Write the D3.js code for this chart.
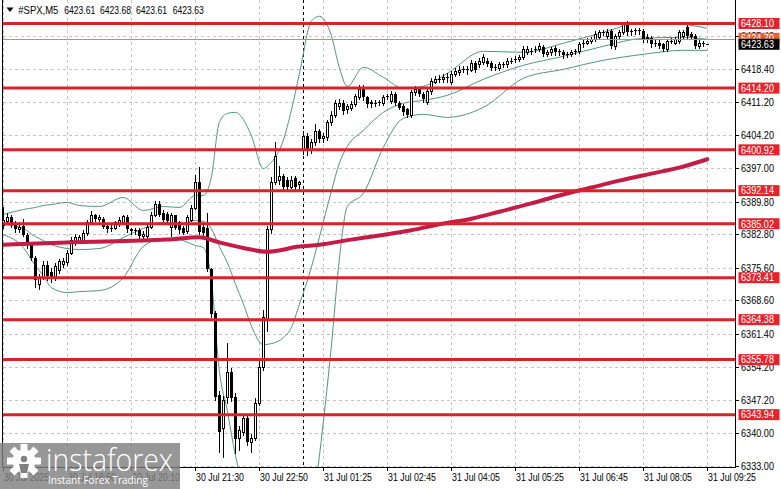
<!DOCTYPE html>
<html><head><meta charset="utf-8">
<script src="https://cdn.jsdelivr.net/npm/d3@7"></script>
<style>html,body{margin:0;padding:0;background:#fff;overflow:hidden}svg{display:block}</style>
</head><body>
<svg id="c" width="781" height="489"></svg>
<script>
// ---------- DATA ----------
const opens=[6384.85,6385.5,6386.4,6385.0,6383.8,6384.6,6382.7,6380.5,6377.7,6372.0,
6373.6,6376.2,6374.6,6373.4,6375.0,6376.4,6376.7,6378.8,6381.0,6381.2,
6381.6,6383.1,6385.3,6386.8,6386.1,6386.1,6384.6,6383.8,6384.2,6385.0,
6385.3,6386.4,6383.8,6383.4,6383.6,6382.3,6382.3,6384.4,6387.0,6389.2,
6387.4,6387.2,6384.4,6386.8,6385.3,6384.2,6383.4,6385.9,6388.5,6393.9,
6384.4,6384.2,6375.2,6365.9,6348.2,6341.0,6347.8,6353.2,6347.8,6339.0,
6340.3,6343.3,6338.0,6339.0,6346.5,6354.3,6364.5,6383.8,6394.1,6394.5,
6395.2,6394.5,6393.0,6394.8,6393.5,6401.0,6403.8,6400.8,6402.5,6404.9,
6403.4,6403.6,6406.8,6408.5,6410.3,6411.1,6409.6,6410.0,6410.7,6412.2,
6414.1,6412.2,6411.3,6410.9,6411.0,6411.1,6412.2,6411.5,6412.9,6411.1,
6410.3,6409.6,6408.5,6413.3,6413.9,6412.9,6411.3,6413.5,6415.6,6416.0,
6416.1,6416.4,6415.6,6417.2,6417.6,6418.2,6418.3,6418.2,6419.7,6419.3,
6419.8,6420.0,6419.7,6418.6,6418.6,6419.2,6419.3,6420.0,6420.3,6420.4,
6420.8,6421.9,6422.1,6422.5,6422.6,6423.0,6421.6,6421.9,6422.8,6421.9,
6421.9,6421.3,6421.5,6421.9,6422.1,6423.6,6424.0,6424.3,6424.7,6425.3,
6426.2,6425.4,6426.4,6423.2,6425.4,6426.2,6427.9,6426.2,6426.4,6426.6,
6426.4,6425.3,6424.9,6423.6,6424.0,6423.6,6422.6,6424.3,6424.0,6424.3,
6425.4,6427.3,6425.8,6425.4,6423.2,6423.8,6423.61];
const highs=[6388.7,6387.4,6386.8,6385.5,6385.3,6386.0,6383.1,6380.6,6378.0,6374.2,
6376.9,6377.0,6375.4,6376.5,6377.5,6377.6,6379.3,6382.1,6382.8,6382.6,
6383.6,6385.8,6387.7,6387.2,6387.0,6386.5,6385.1,6384.8,6385.7,6386.5,
6387.0,6386.8,6384.2,6384.1,6384.0,6383.4,6384.9,6387.6,6389.9,6390.0,
6387.9,6387.6,6387.4,6387.0,6385.7,6384.6,6386.8,6389.0,6395.6,6397.3,
6385.2,6387.4,6375.6,6366.3,6349.0,6348.0,6359.4,6354.0,6348.5,6341.5,
6344.0,6344.0,6339.8,6347.5,6356.0,6366.5,6384.5,6395.0,6402.7,6397.5,
6395.8,6395.0,6395.2,6395.3,6394.3,6404.9,6404.5,6403.2,6406.4,6405.4,
6404.5,6407.3,6409.3,6411.7,6411.9,6411.6,6410.8,6411.5,6413.0,6414.8,
6414.8,6412.6,6411.7,6411.6,6411.7,6412.7,6413.0,6413.5,6413.3,6411.5,
6410.8,6410.0,6413.8,6414.6,6414.4,6413.3,6414.0,6416.3,6416.7,6417.0,
6417.3,6417.5,6417.8,6418.6,6419.0,6419.0,6418.9,6420.3,6420.1,6420.7,
6421.6,6420.6,6420.1,6419.4,6419.9,6419.8,6420.6,6420.7,6421.0,6421.3,
6423.2,6423.3,6422.9,6423.2,6424.0,6423.5,6422.5,6423.1,6423.3,6422.7,
6422.4,6422.0,6422.4,6422.7,6424.2,6424.6,6424.9,6425.3,6426.4,6426.8,
6426.8,6426.9,6426.9,6425.8,6426.8,6428.5,6428.6,6427.0,6427.1,6427.2,
6427.0,6425.8,6425.4,6424.6,6424.5,6424.0,6424.8,6424.9,6425.3,6426.7,
6426.7,6428.0,6426.3,6425.8,6424.5,6424.3,6423.68];
const lows=[6384.2,6385.0,6384.4,6383.3,6383.3,6382.3,6379.9,6377.3,6371.5,6370.9,
6373.2,6373.0,6372.4,6372.9,6374.5,6375.8,6376.2,6378.5,6380.5,6380.8,
6381.2,6382.7,6385.0,6385.7,6385.5,6384.0,6383.3,6383.4,6383.8,6384.6,
6384.9,6383.3,6382.9,6382.9,6381.9,6381.8,6382.0,6384.0,6386.6,6386.7,
6385.5,6385.0,6382.3,6383.8,6383.1,6382.9,6383.0,6385.5,6388.1,6382.9,
6382.5,6374.8,6364.9,6347.0,6336.0,6334.8,6346.5,6346.8,6335.7,6336.4,
6339.5,6337.5,6336.0,6338.5,6346.0,6353.5,6362.0,6383.0,6393.5,6393.5,
6392.5,6392.3,6392.6,6392.5,6392.0,6400.0,6399.8,6400.2,6402.0,6402.7,
6402.6,6403.0,6406.3,6408.0,6409.8,6408.6,6408.9,6409.5,6410.3,6411.8,
6411.7,6410.2,6410.2,6410.4,6410.6,6410.6,6411.8,6411.0,6410.6,6409.6,
6408.5,6407.9,6408.0,6412.8,6412.4,6411.3,6410.8,6413.0,6415.2,6415.5,
6415.6,6415.5,6415.1,6416.8,6417.1,6417.7,6417.3,6417.8,6417.7,6418.8,
6419.4,6418.9,6418.1,6418.2,6418.1,6418.7,6418.8,6419.5,6419.8,6420.0,
6420.4,6421.5,6421.6,6422.0,6422.2,6421.0,6421.2,6421.4,6421.4,6421.4,
6420.7,6420.8,6421.1,6421.5,6421.7,6423.1,6423.6,6423.9,6424.3,6424.9,
6425.6,6425.0,6422.8,6422.6,6425.0,6425.8,6425.7,6425.7,6425.9,6425.9,
6424.1,6424.2,6423.1,6423.2,6422.8,6422.1,6422.2,6423.8,6423.6,6423.9,
6425.0,6425.0,6424.7,6422.8,6422.8,6423.2,6423.61];
const closes=[6385.9,6386.4,6384.9,6383.8,6384.4,6382.7,6380.5,6377.7,6373.0,6373.6,
6376.2,6373.7,6373.4,6376.0,6376.9,6376.9,6378.8,6381.6,6382.1,6382.1,
6383.1,6385.3,6387.0,6386.1,6386.4,6384.4,6383.8,6384.2,6385.3,6385.9,
6386.6,6383.8,6383.4,6383.6,6382.3,6382.9,6384.4,6387.0,6389.2,6387.0,
6385.9,6385.5,6387.0,6384.2,6383.6,6383.1,6386.4,6388.5,6393.9,6383.3,
6383.1,6375.2,6365.5,6347.8,6340.3,6347.0,6353.2,6347.6,6338.6,6340.7,
6343.3,6338.1,6339.0,6346.5,6354.3,6365.0,6383.8,6394.1,6399.5,6395.2,
6393.0,6393.0,6394.5,6393.0,6393.9,6403.8,6400.6,6402.5,6404.9,6403.2,
6403.8,6406.8,6408.5,6411.1,6411.1,6409.2,6410.3,6410.7,6412.4,6414.1,
6412.2,6410.7,6410.7,6411.0,6411.2,6412.2,6412.4,6412.9,6411.1,6410.0,
6409.0,6408.5,6413.3,6413.9,6412.9,6411.8,6413.5,6415.7,6416.1,6416.1,
6416.5,6416.6,6417.2,6417.8,6418.2,6418.3,6418.2,6419.7,6418.2,6420.0,
6420.8,6419.3,6418.6,6418.8,6419.3,6419.3,6420.0,6420.1,6420.5,6420.8,
6422.6,6422.6,6422.2,6422.6,6423.2,6421.5,6421.9,6422.6,6421.9,6422.1,
6421.3,6421.5,6421.9,6422.1,6423.6,6424.0,6424.3,6424.7,6425.8,6426.2,
6426.1,6426.2,6423.2,6425.4,6426.2,6427.9,6426.2,6426.4,6426.6,6426.4,
6424.7,6424.7,6423.6,6424.0,6423.2,6422.6,6424.3,6424.3,6424.7,6426.2,
6426.2,6425.4,6425.1,6423.2,6424.0,6423.6,6423.63];

const timeTickIndex=[0,16,32,48,64,80,96,112,128,144,160,176];
const timeTickLabels=["30 Jul 2025","30 Jul 18:50","30 Jul 20:10","30 Jul 21:30","30 Jul 22:50","31 Jul 01:25","31 Jul 02:45","31 Jul 04:05","31 Jul 05:25","31 Jul 06:45","31 Jul 08:05","31 Jul 09:25"];
const separatorIndex=[75];
const priceTicks=[6333.00,6340.00,6347.20,6354.20,6361.40,6368.60,6375.60,6382.80,6389.80,6397.00,6404.20,6411.20,6418.40,6425.40];
const levels=[6428.10,6414.20,6400.92,6392.14,6385.02,6373.41,6364.38,6355.78,6343.94];
const extraLevel=[6424.70];
const currentPrice=[6423.63];
const headerValues=["6423.61","6423.68","6423.61","6423.63"];

const maIdx=[0,16,41,49,54,60,66,74,79,87,94,102,109,117,124,132,139,147,154,162,169,176];
const maVal=[6380.5,6381.0,6381.6,6382.1,6381.0,6379.8,6379.0,6380.1,6380.5,6381.6,6382.5,6383.6,6384.9,6386.1,6387.6,6389.4,6391.1,6392.8,6394.3,6395.8,6397.1,6398.9];

const bbIdx=[0,5,8,10,12,16,19,24,30,35,40,44,48,50,52,54,56,58,60,62,65,67,70,72,74,77,79,82,84,86,90,95,100,105,111,120,130,140,150,160,170,176];
const bbUpper=[6387.00,6388.08,6388.51,6388.94,6389.16,6389.59,6388.94,6388.73,6390.67,6387.87,6388.73,6388.51,6391.10,6391.10,6394.98,6406.82,6408.76,6408.98,6407.47,6404.02,6396.91,6398.21,6402.95,6409.41,6417.16,6428.58,6429.66,6425.56,6418.67,6414.58,6418.67,6416.52,6414.15,6414.58,6417.38,6422.12,6421.90,6423.84,6426.21,6428.37,6427.93,6427.07];
const bbMiddle=[6384.85,6383.99,6382.27,6381.40,6380.54,6379.68,6379.46,6379.68,6382.05,6383.99,6385.28,6385.07,6385.71,6385.50,6383.99,6380.11,6376.66,6372.14,6367.83,6363.09,6359.00,6359.22,6360.51,6362.66,6367.62,6375.59,6382.05,6391.96,6397.99,6401.65,6405.10,6408.98,6410.92,6411.56,6412.64,6416.09,6419.10,6421.04,6423.20,6424.92,6425.13,6424.70];
const bbLower=[6382.70,6379.90,6376.02,6373.86,6371.28,6370.20,6370.42,6370.63,6373.43,6380.11,6381.83,6381.62,6380.33,6379.90,6373.00,6353.40,6344.78,6335.30,6328.20,6322.16,6321.09,6320.22,6318.07,6315.92,6319.36,6321.09,6334.87,6358.57,6377.31,6388.73,6391.53,6401.44,6407.69,6408.55,6407.90,6410.05,6416.30,6418.24,6420.18,6421.47,6422.33,6422.33];

// ---------- LAYOUT ----------
const L=3, R=735, T=0, B=467;
const N=closes.length;
const x=d3.scaleLinear().domain([0,N-1]).range([3.3,707.3]);
const y=d3.scaleLinear().domain([6333,6428.1]).range([465.5,23.5]);
const FONT="'Liberation Sans', Arial, sans-serif";
const LEVEL_RED="#d8232a", BOX_RED="#e5232b", MA_COL="#c41b47", BB_COL="#4f977a";

const svg=d3.select("#c");
svg.append("rect").attr("width",781).attr("height",489).attr("fill","#fff");
svg.append("defs").append("clipPath").attr("id","plot")
  .append("rect").attr("x",L).attr("y",T).attr("width",R-L).attr("height",B-T);

const g=svg.append("g");
// grid
const grid=g.append("g").attr("stroke","#c4c4c4").attr("stroke-dasharray","3,3").attr("shape-rendering","crispEdges");
priceTicks.forEach(v=>{const yy=Math.round(y(v))+0.5;
  grid.append("line").attr("x1",L).attr("x2",R).attr("y1",yy).attr("y2",yy);});
timeTickIndex.forEach(i=>{const xx=Math.round(x(i))+0.5;
  grid.append("line").attr("x1",xx).attr("x2",xx).attr("y1",T).attr("y2",B);});
// separator
separatorIndex.forEach(i=>{const xx=Math.round(x(i))+0.5;
  g.append("line").attr("x1",xx).attr("x2",xx).attr("y1",T).attr("y2",B)
   .attr("stroke","#000").attr("stroke-dasharray","3,3").attr("shape-rendering","crispEdges");});

const plot=g.append("g").attr("clip-path","url(#plot)");
// bollinger
const bbLine=d3.line().x(d=>x(d[0])).y(d=>y(d[1])).curve(d3.curveMonotoneX);
[bbUpper,bbMiddle,bbLower].forEach(arr=>{
  plot.append("path").attr("d",bbLine(bbIdx.map((k,j)=>[k,arr[j]])))
   .attr("fill","none").attr("stroke",BB_COL).attr("stroke-width",1);});

// candles
const cg=plot.append("g").attr("shape-rendering","crispEdges");
for(let i=0;i<N;i++){
  const px=Math.round(x(i));
  const yo=Math.round(y(opens[i])), yc=Math.round(y(closes[i]));
  const yh=Math.round(y(highs[i])), yl=Math.round(y(lows[i]));
  cg.append("line").attr("x1",px+0.5).attr("x2",px+0.5).attr("y1",yh).attr("y2",yl+1).attr("stroke","#000");
  const top=Math.min(yo,yc), h=Math.abs(yo-yc);
  if(closes[i]>=opens[i] && h>=2){
    cg.append("rect").attr("x",px-0.5).attr("y",top+0.5).attr("width",2).attr("height",h)
      .attr("fill","#fff").attr("stroke","#000");
  } else {
    cg.append("rect").attr("x",px-1).attr("y",top).attr("width",3).attr("height",Math.max(h,1)).attr("fill","#000");
  }
}
// moving average
const maLine=d3.line().x(d=>x(d[0])).y(d=>y(d[1])).curve(d3.curveMonotoneX);
plot.append("path").attr("d",maLine(maIdx.map((k,j)=>[k,maVal[j]])))
  .attr("fill","none").attr("stroke",MA_COL).attr("stroke-width",4).attr("stroke-linecap","round");

// levels
levels.forEach(v=>{plot.append("line").attr("x1",L).attr("x2",R).attr("y1",y(v)).attr("y2",y(v))
  .attr("stroke",LEVEL_RED).attr("stroke-width",3);});
extraLevel.forEach(v=>{plot.append("line").attr("x1",L).attr("x2",R).attr("y1",Math.round(y(v))+0.5).attr("y2",Math.round(y(v))+0.5)
  .attr("stroke","#c98a6c").attr("stroke-width",1);});

// frame
const fr=svg.append("g").attr("stroke","#000").attr("shape-rendering","crispEdges");
fr.append("line").attr("x1",L-0.5).attr("x2",L-0.5).attr("y1",0).attr("y2",B+0.5);
fr.append("line").attr("x1",R+0.5).attr("x2",R+0.5).attr("y1",0).attr("y2",B+0.5);
fr.append("line").attr("x1",L-0.5).attr("x2",R+0.5).attr("y1",B+0.5).attr("y2",B+0.5);

// right axis ticks & labels
const ax=svg.append("g").attr("font-family",FONT).attr("font-size","10.5px");
priceTicks.forEach(v=>{const yy=Math.round(y(v))+0.5;
  ax.append("line").attr("x1",R).attr("x2",R+4).attr("y1",yy).attr("y2",yy).attr("stroke","#000").attr("shape-rendering","crispEdges");
  ax.append("text").attr("x",741).attr("y",yy+3.8).attr("fill","#000")
    .attr("textLength",33).attr("lengthAdjust","spacingAndGlyphs").text(v.toFixed(2));});

// extra level box (orange), partly hidden by current price
extraLevel.forEach(v=>{const yy=y(v)-1;
  ax.append("rect").attr("x",738.5).attr("y",yy-5.5).attr("width",41).attr("height",11).attr("fill","#e8602c");
  ax.append("text").attr("x",741).attr("y",yy+3.8).attr("fill","#fff").attr("textLength",33).attr("lengthAdjust","spacingAndGlyphs").text(v.toFixed(2));});
// level boxes
levels.forEach(v=>{const yy=y(v);
  ax.append("rect").attr("x",738.5).attr("y",yy-5.5).attr("width",41).attr("height",11).attr("fill",BOX_RED);
  ax.append("text").attr("x",741).attr("y",yy+3.8).attr("fill","#fff").attr("textLength",33).attr("lengthAdjust","spacingAndGlyphs").text(v.toFixed(2));});
currentPrice.forEach(v=>{const yy=y(v);
  ax.append("rect").attr("x",738.5).attr("y",yy-5.5).attr("width",41).attr("height",11).attr("fill","#000");
  ax.append("text").attr("x",741).attr("y",yy+3.8).attr("fill","#fff").attr("textLength",33).attr("lengthAdjust","spacingAndGlyphs").text(v.toFixed(2));});

// bottom axis
timeTickIndex.forEach((i,j)=>{const xx=Math.round(x(i))+0.5;
  ax.append("line").attr("x1",xx).attr("x2",xx).attr("y1",B).attr("y2",B+4).attr("stroke","#000").attr("shape-rendering","crispEdges");
  const lab=timeTickLabels[j];
  ax.append("text").attr("x",xx+0.5).attr("y",480.5).attr("fill","#000")
    .attr("textLength",lab.length===11?45:48).attr("lengthAdjust","spacingAndGlyphs").text(lab);});

// header
const hd=svg.append("g").attr("font-family",FONT).attr("font-size","11px").attr("fill","#000");
hd.append("path").attr("d","M6.5,7.5 L13.5,7.5 L10,12 Z").attr("fill","#000");
hd.append("text").attr("x",18.3).attr("y",14).attr("textLength",40).attr("lengthAdjust","spacingAndGlyphs").text("#SPX,M5");
const hx=[64.3,100,136,172.7];
headerValues.forEach((t,k)=>hd.append("text").attr("x",hx[k]).attr("y",14).attr("textLength",31).attr("lengthAdjust","spacingAndGlyphs").text(t));

// logo overlay
const lg=svg.append("g");
lg.append("rect").attr("x",0).attr("y",443).attr("width",180).attr("height",46).attr("fill","#808080").attr("opacity",0.82);
// gear
const gcx=24, gcy=461;
const teeth=d3.range(8).map(k=>k*Math.PI/4);
teeth.forEach(a=>{lg.append("rect").attr("x",gcx-3.5).attr("y",gcy-17).attr("width",7).attr("height",8)
  .attr("fill","#fff").attr("transform",`rotate(${a*180/Math.PI},${gcx},${gcy})`);});
lg.append("circle").attr("cx",gcx).attr("cy",gcy).attr("r",11.5).attr("fill","#fff");
lg.append("circle").attr("cx",gcx).attr("cy",gcy-2).attr("r",3.2).attr("fill","#808080");
lg.append("path").attr("d",`M${gcx-5},${gcy+3} L${gcx+5},${gcy+3} L${gcx+3},${gcy+12} L${gcx-3},${gcy+12} Z`).attr("fill","#808080");
lg.append("text").attr("x",46).attr("y",471).attr("font-family","'Open Sans', Lato, sans-serif").attr("font-size","31px")
  .attr("font-weight",300).attr("fill","#fff").attr("textLength",127).attr("lengthAdjust","spacingAndGlyphs").text("instaforex");
lg.append("text").attr("x",48).attr("y",484).attr("font-family","'Open Sans', Lato, sans-serif").attr("font-size","11.5px")
  .attr("fill","#fff").attr("textLength",100).attr("lengthAdjust","spacingAndGlyphs").text("Instant Forex Trading");
</script>
</body></html>
